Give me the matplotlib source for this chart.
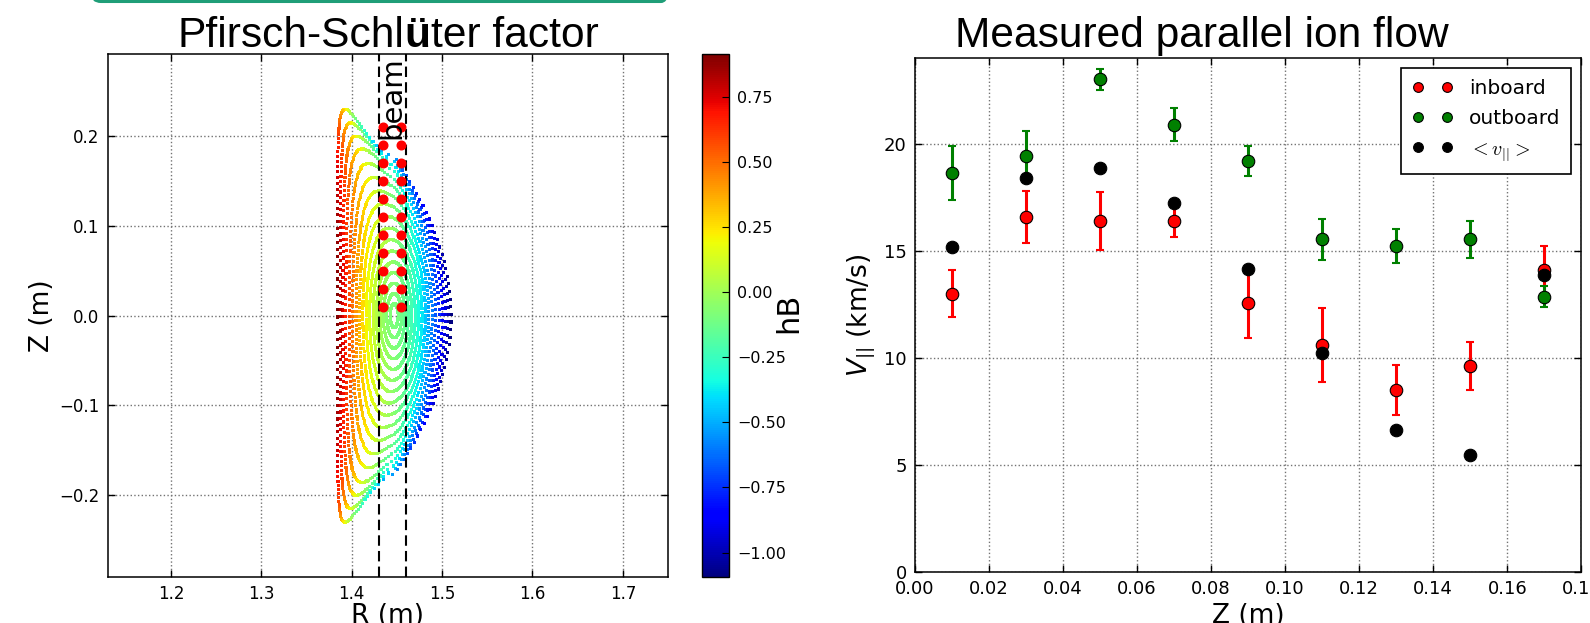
import numpy as np
import matplotlib
matplotlib.use('Agg')
import matplotlib.pyplot as plt
from matplotlib.patches import FancyBboxPatch
from matplotlib.ticker import FuncFormatter

plt.rcParams['font.family'] = ['DejaVu Sans']
plt.rcParams['mathtext.fontset'] = 'cm'

# ---------------- data : right panel (measured parallel ion flow) ----------------
Z_POS = [0.01, 0.03, 0.05, 0.07, 0.09, 0.11, 0.13, 0.15, 0.17]
V_IN = [12.98, 16.57, 16.38, 16.38, 12.57, 10.59, 8.50, 9.61, 14.10]
V_IN_ERR = [1.10, 1.22, 1.36, 0.75, 1.64, 1.73, 1.18, 1.12, 1.12]
V_OUT = [18.62, 19.42, 23.00, 20.88, 19.19, 15.53, 15.23, 15.53, 12.84]
V_OUT_ERR = [1.27, 1.17, 0.49, 0.77, 0.72, 0.95, 0.80, 0.86, 0.49]
V_MEAN = [15.19, 18.40, 18.85, 17.24, 14.13, 10.22, 6.61, 5.45, 13.88]
LEGEND_LABELS = ['inboard', 'outboard', r'$<v_{||}>$']

# ---------------- data : left panel (Pfirsch-Schlueter factor) ----------------
BEAM_R = [1.43, 1.46]
CHORD_R = [1.435, 1.455]
CHORD_Z = [0.01, 0.03, 0.05, 0.07, 0.09, 0.11, 0.13, 0.15, 0.17, 0.19, 0.21]
SURF_RHO = [0.07, 0.13, 0.19, 0.25, 0.31, 0.37, 0.43, 0.49, 0.55, 0.61,
            0.67, 0.73, 0.79, 0.85, 0.90, 0.95, 1.00]
R_AXIS = 1.447
A_MINOR = 0.063
KAPPA_CORE, KAPPA_EDGE = 3.0, 3.65
DELTA_EDGE = 0.9
HB_OFFSET, HB_EDGE = -0.09, 1.0
HB_MIN, HB_MAX = -1.094, 0.915
N_PTS = 170
CB_TICKS = [-1.0, -0.75, -0.5, -0.25, 0.0, 0.25, 0.5, 0.75]

# ---------------- figure ----------------
W, H = 1590, 623
fig = plt.figure(figsize=(W / 100, H / 100), dpi=100)


def frac(x0, y0, x1, y1):
    return [x0 / W, 1 - y1 / H, (x1 - x0) / W, (y1 - y0) / H]


def fmt(nd):
    return FuncFormatter(lambda v, p: f'{v:.{nd}f}'.replace('-', '\u2212'))


# slide decoration (green rounded box edge at top)
bg = fig.add_axes([0, 0, 1, 1], zorder=-5)
bg.set_xlim(0, W)
bg.set_ylim(H, 0)
bg.axis('off')
bg.add_patch(FancyBboxPatch((92, -40), 578, 41.5,
                            boxstyle='round,pad=0,rounding_size=9',
                            fc='none', ec='#1f9e78', lw=2.2))

GRID_KW = dict(color='0.45', linestyle=':', linewidth=1.0)


def style_axes(ax, size):
    ax.tick_params(direction='in', top=True, right=True, labelsize=size,
                   length=5, width=1, pad=6)
    for s in ax.spines.values():
        s.set_linewidth(1.1)
    ax.grid(True, **GRID_KW)
    ax.set_axisbelow(True)


# ---------------- left panel ----------------
ax1 = fig.add_axes(frac(107.7, 54.3, 668, 577))
Rs, Zs, Hs = [], [], []
for i, rho in enumerate(SURF_RHO):
    th = np.linspace(0, 2 * np.pi, N_PTS, endpoint=False) + 0.37 * i
    a = A_MINOR * rho
    k = KAPPA_CORE + (KAPPA_EDGE - KAPPA_CORE) * rho ** 2
    d = DELTA_EDGE * rho ** 2.5
    c = np.cos(th + d * np.sin(th))
    p = 1 - 0.4 * rho ** 2
    c = np.where(c < 0, -np.abs(c) ** p, c)
    Rs.append(R_AXIS + a * c)
    Zs.append(k * a * np.sin(th))
    Hs.append(HB_OFFSET + HB_EDGE * rho ** 1.7 * (-np.cos(th + 0.3 * np.sin(th))))
Rs, Zs, Hs = np.concatenate(Rs), np.concatenate(Zs), np.concatenate(Hs)
sc = ax1.scatter(Rs, Zs, c=Hs, cmap='jet', vmin=HB_MIN, vmax=HB_MAX,
                 s=5, marker='s', linewidths=0, zorder=2)
for rb in BEAM_R:
    ax1.axvline(rb, color='k', linestyle=(0, (5, 2.5)), lw=1.5, zorder=3)
for rc in CHORD_R:
    ax1.plot([rc] * len(CHORD_Z), CHORD_Z, 'o', color='#ff0000', mec='#ff0000',
             ms=6.2, zorder=4, ls='none')
ax1.text(np.mean(BEAM_R), 0.243, 'beam', rotation=90, ha='center', va='center',
         fontsize=21, zorder=5)
ax1.set_xlim(1.13, 1.75)
ax1.set_ylim(-0.291, 0.291)
ax1.set_xticks([1.2, 1.3, 1.4, 1.5, 1.6, 1.7])
ax1.set_yticks([-0.2, -0.1, 0.0, 0.1, 0.2])
ax1.xaxis.set_major_formatter(fmt(1))
ax1.yaxis.set_major_formatter(fmt(1))
style_axes(ax1, 12)
ax1.set_xlabel('R (m)', fontsize=19)
ax1.xaxis.set_label_coords(0.5, -(603 - 577) / 522.7)
ax1.xaxis.label.set_va('top')
ax1.set_ylabel('Z (m)', fontsize=19)
ax1.yaxis.set_label_coords((55 - 107.7) / 560.3, 0.5)

cax = fig.add_axes(frac(702, 54.3, 729, 577))
cb = fig.colorbar(sc, cax=cax, ticks=CB_TICKS)
cb.ax.yaxis.set_major_formatter(fmt(2))
cb.ax.tick_params(direction='in', labelsize=11.5, length=5, pad=6)
cb.outline.set_linewidth(1.0)
fig.text(789 / W, 1 - 313 / H, 'hB', rotation=90, ha='center', va='center',
         fontsize=22)

# ---------------- right panel ----------------
ax2 = fig.add_axes(frac(915, 58, 1581.3, 571.7))
ax2.errorbar(Z_POS, V_IN, yerr=V_IN_ERR, fmt='none', ecolor='#ff0000',
             elinewidth=2.2, capsize=2.6, capthick=1.5, zorder=3)
ax2.plot(Z_POS, V_IN, 'o', color='#ff0000', mec='k', mew=0.8, ms=9,
         label=LEGEND_LABELS[0], zorder=4)
ax2.errorbar(Z_POS, V_OUT, yerr=V_OUT_ERR, fmt='none', ecolor='#008000',
             elinewidth=2.2, capsize=2.6, capthick=1.5, zorder=5)
ax2.plot(Z_POS, V_OUT, 'o', color='#008000', mec='k', mew=0.8, ms=9,
         label=LEGEND_LABELS[1], zorder=6)
ax2.plot(Z_POS, V_MEAN, 'o', color='k', mec='k', mew=0.8, ms=9,
         label=LEGEND_LABELS[2], zorder=7)
ax2.set_xlim(0, 0.18)
ax2.set_ylim(0, 24)
ax2.set_xticks(np.arange(0, 0.181, 0.02))
ax2.set_yticks([0, 5, 10, 15, 20])
ax2.xaxis.set_major_formatter(fmt(2))
style_axes(ax2, 13)
ax2.set_xlabel('Z (m)', fontsize=19)
ax2.xaxis.set_label_coords(0.5, -(603 - 571.7) / 513.7)
ax2.xaxis.label.set_va('top')
ax2.set_ylabel(r'$V_{||}$ (km/s)', fontsize=19, math_fontfamily='dejavusans')
ax2.yaxis.set_label_coords((877 - 915) / 666.3, 0.5)
leg = ax2.legend(loc='upper right', numpoints=2, fontsize=14.5, markerscale=0.78,
                 fancybox=False, framealpha=1, edgecolor='k', borderaxespad=0.5,
                 labelspacing=0.55, borderpad=0.55)
leg.get_frame().set_linewidth(1.2)

# ---------------- titles (slide text) ----------------
TFONT = dict(family='Liberation Sans', fontsize=30.6, va='baseline', ha='left')
fig.canvas.draw()
r = fig.canvas.get_renderer()
ty = 1 - 46.7 / H
x = 177.7
for part, wgt in [('Pfirsch-Schl', 'normal'), ('ü', 'bold'), ('ter factor', 'normal')]:
    t = fig.text(x / W, ty, part, fontweight=wgt, **TFONT)
    x = t.get_window_extent(r).x1
fig.text(955 / W, ty, 'Measured parallel ion flow', **TFONT)

fig.savefig('out.png', dpi=100)
